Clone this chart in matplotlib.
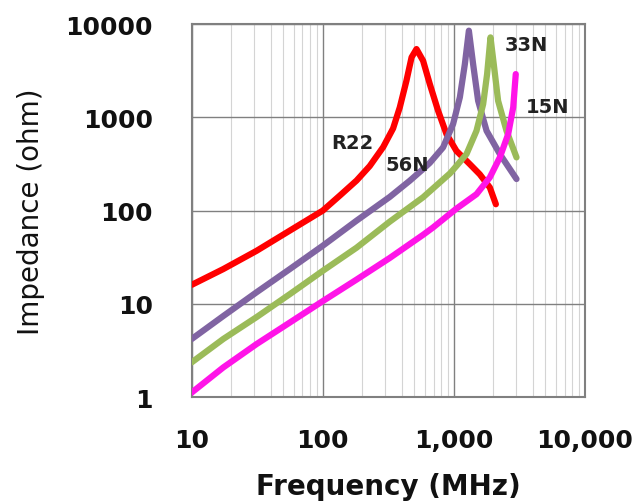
import matplotlib
matplotlib.use("Agg")
import matplotlib.pyplot as plt
from matplotlib.ticker import FuncFormatter, NullFormatter, LogLocator

# impedance vs frequency
r22_f = [10, 17.4, 31.2, 56, 100, 135, 181, 228, 289, 344, 387, 435, 476, 519,
         583, 656, 759, 879, 1047, 1324, 1578, 1883, 2094]
r22_z = [16, 23.6, 37, 61, 100, 145, 210, 300, 480, 760, 1280, 2470, 4400, 5400,
         4040, 2270, 1175, 661, 437, 315, 245, 177, 117]

n56_f = [10, 17.4, 31.2, 56, 100, 181, 324, 461, 583, 656, 828, 988, 1112, 1214,
         1303, 1404, 1533, 1778, 2245, 3010]
n56_z = [4.2, 7.4, 13.3, 23.6, 42, 78, 140, 209, 279, 325, 476, 850, 1640, 3720,
         8500, 3720, 1505, 718, 404, 218]

n33_f = [10, 17.4, 31.2, 56, 100, 181, 324, 583, 933, 1050, 1250, 1490, 1675, 1795,
         1905, 2018, 2178, 2523, 3010]
n33_z = [2.36, 4.2, 7.2, 12.7, 22.6, 40, 76, 139, 250, 302, 404, 718, 1387, 2910,
         7200, 3720, 1505, 718, 372]

n15_f = [10, 17.4, 31.2, 56, 100, 181, 324, 583, 695, 1047, 1490, 1883, 2245, 2600,
         2840, 2970]
n15_z = [1.12, 2.08, 3.7, 6.3, 10.7, 18.2, 31, 55, 66, 105, 150, 227, 372, 661,
         1280, 2910]

series = [
    ("R22", r22_f, r22_z, "#ff0000", (169, 540)),
    ("56N", n56_f, n56_z, "#8064a2", (437, 315)),
    ("33N", n33_f, n33_z, "#9bbb59", (3600, 6100)),
    ("15N", n15_f, n15_z, "#ff14e8", (5190, 1310)),
]

fig = plt.figure(figsize=(6.35, 5.02), dpi=100)
ax = fig.add_axes([0.302, 0.207, 0.619, 0.743])

for name, f, z, col, pos in series:
    ax.plot(f, z, color=col, lw=4.5, solid_capstyle="round",
            solid_joinstyle="round", zorder=3)
    ax.text(pos[0], pos[1], name, ha="center", va="center", fontsize=14,
            fontweight="bold", color="#222222", zorder=4)

ax.set_xscale("log")
ax.set_yscale("log")
ax.set_xlim(10, 10000)
ax.set_ylim(1, 10000)

ax.xaxis.set_major_locator(LogLocator(base=10))
ax.xaxis.set_minor_locator(LogLocator(base=10, subs=range(2, 10)))
ax.xaxis.set_major_formatter(FuncFormatter(lambda v, p: "{:,.0f}".format(v)))
ax.yaxis.set_major_formatter(FuncFormatter(lambda v, p: "{:.0f}".format(v)))
ax.xaxis.set_minor_formatter(NullFormatter())
ax.yaxis.set_minor_formatter(NullFormatter())

ax.grid(which="major", color="#808080", lw=1.0)
ax.grid(which="minor", axis="x", color="#d4d4d4", lw=0.8)
ax.set_axisbelow(True)
for s in ax.spines.values():
    s.set_color("#808080")
    s.set_linewidth(1.5)

ax.tick_params(which="both", length=0)
ax.tick_params(axis="y", pad=28)
ax.tick_params(axis="x", pad=22)
for lab in ax.get_xticklabels() + ax.get_yticklabels():
    lab.set_fontsize(18)
    lab.set_fontweight("bold")
    lab.set_color("#111111")

ax.set_xlabel("Frequency (MHz)", fontsize=20, fontweight="bold", color="#111111")
ax.xaxis.set_label_coords(0.5, -0.201)
ax.set_ylabel("Impedance (ohm)", fontsize=20, color="#111111")
ax.yaxis.set_label_coords(-0.374, 0.5)

fig.savefig("out.png", dpi=100)
